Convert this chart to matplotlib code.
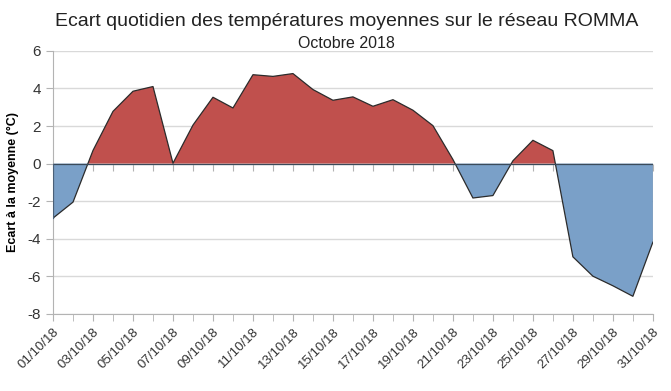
import numpy as np
import matplotlib.pyplot as plt

plt.rcParams['font.family'] = ['Liberation Sans', 'DejaVu Sans']

# Daily temperature deviation, October 2018
days = np.arange(1, 32)
ecart = [-2.9, -2.05, 0.7, 2.78, 3.85, 4.1, 0.02, 2.05, 3.53, 2.96,
         4.73, 4.64, 4.79, 3.94, 3.37, 3.55, 3.05, 3.4, 2.84, 2.02,
         0.22, -1.83, -1.7, 0.15, 1.24, 0.69, -4.96, -5.99, -6.5, -7.06,
         -4.18]
tick_days = list(range(1, 32, 2))
tick_labels = ['%02d/10/18' % d for d in tick_days]
yticks = [-8, -6, -4, -2, 0, 2, 4, 6]

red = '#c0504d'
blue = '#7aa0c8'
edge = '#2b2b2b'

fig = plt.figure(figsize=(6.71, 3.91), dpi=100)
ax = fig.add_axes([0.079, 0.197, 0.894, 0.673])

y = np.array(ecart)
ax.fill_between(days, y, 0, where=y >= 0, interpolate=True, color=red, lw=0, zorder=2)
ax.fill_between(days, y, 0, where=y <= 0, interpolate=True, color=blue, lw=0, zorder=2)
ax.plot(days, y, color=edge, lw=0.9, zorder=3)
ax.axhline(0, color='#3a4a5a', lw=0.9, zorder=3)
ax.plot([31, 31], [0, y[-1]], color='#4a6078', lw=0.9, zorder=3)
ax.plot([1, 1], [0, y[0]], color='#4a6078', lw=0.9, zorder=3)

ax.set_xlim(1, 31)
ax.set_ylim(-8, 6)
ax.set_yticks(yticks)
ax.set_yticklabels([str(v) for v in yticks], fontsize=11, color='#333333')
ax.set_xticks(days, minor=True)
ax.set_xticks(tick_days)
ax.set_xticklabels(tick_labels, rotation=45, ha='right', rotation_mode='anchor',
                   fontsize=9.5, color='#333333')
ax.tick_params(axis='x', which='both', length=5, color='#b3b3b3')
ax.tick_params(axis='y', length=5, color='#b3b3b3')
ax.grid(axis='y', color='#d9d9d9', lw=1, zorder=0)

for s in ['top', 'right']:
    ax.spines[s].set_visible(False)
for s in ['left', 'bottom']:
    ax.spines[s].set_color('#b3b3b3')

# ticks on the zero line, pointing down
sec = ax.secondary_xaxis(8 / 14)
sec.xaxis.set_ticks_position('bottom')
sec.set_xticks(days)
sec.set_xticklabels([])
for s in sec.spines.values():
    s.set_visible(False)
sec.tick_params(length=5, color='#b3b3b3', direction='out')

ax.set_ylabel('Ecart à la moyenne (°C)', fontsize=9, fontweight='bold', labelpad=6)

fig.text(0.517, 0.945, 'Ecart quotidien des températures moyennes sur le réseau ROMMA',
         ha='center', va='center', fontsize=14, color='#222222')
fig.text(0.517, 0.89, 'Octobre 2018', ha='center', va='center', fontsize=11.5, color='#222222')

fig.savefig('out.png', dpi=100)
